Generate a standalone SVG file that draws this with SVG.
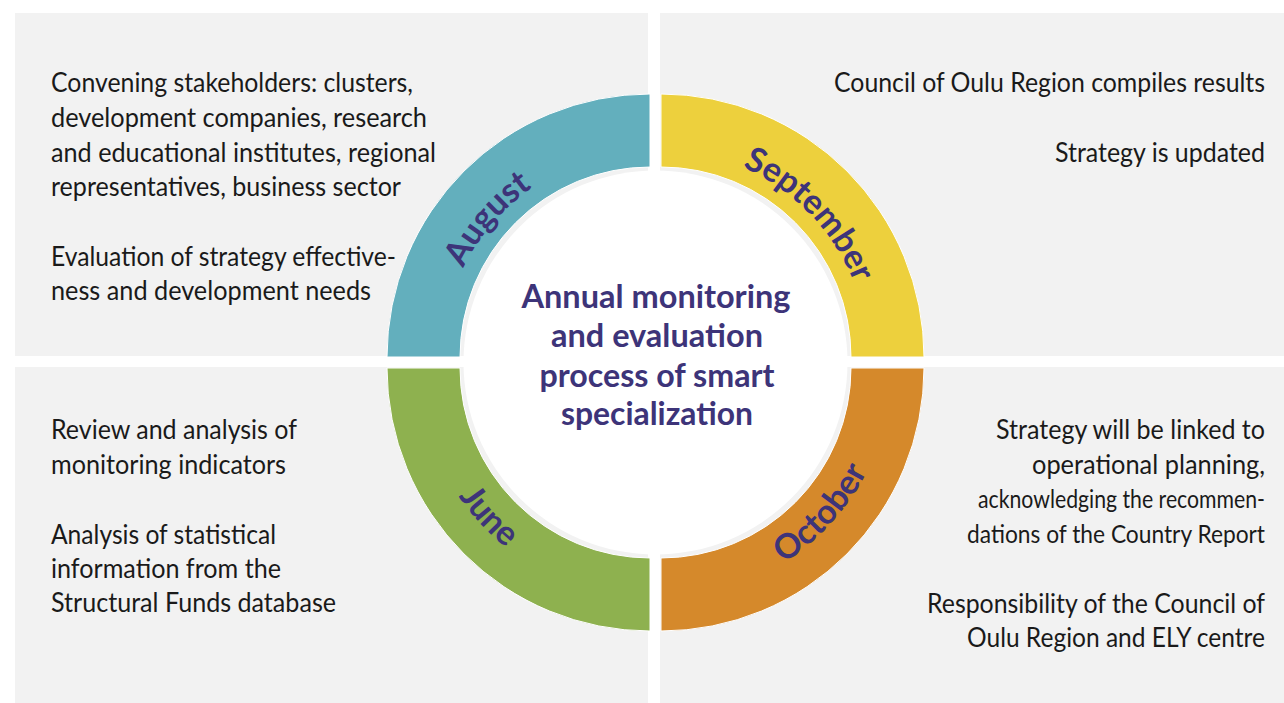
<svg xmlns="http://www.w3.org/2000/svg" width="1284" height="703" viewBox="0 0 1284 703">
<style>
.panel{fill:#F2F2F2}
.body{font-family:Lato,"Liberation Sans",sans-serif;font-size:26px;fill:#1A1A1A}
.right{text-anchor:end}
.narrow{font-size:25px}
.title{font-family:Lato,"Liberation Sans",sans-serif;font-size:32px;font-weight:bold;fill:#3D3479;text-anchor:middle}
.month{font-family:Lato,"Liberation Sans",sans-serif;font-size:34px;font-weight:bold;fill:#3D3479;text-anchor:middle}
.seg{stroke:#FFFFFF;stroke-width:1}
</style>
<defs>
<path id="arcTop" d="M 441.5 362.5 A 214 214 0 0 1 869.5 362.5"/>
<path id="arcBot" d="M 417.5 362.5 A 238 238 0 0 0 893.5 362.5"/>
</defs>
<rect x="0" y="0" width="1284" height="703" fill="#FFFFFF"/>
<g id="panel-august">
<rect class="panel" x="15" y="13" width="633" height="343"/>
<text class="body" x="51" y="92" textLength="362" lengthAdjust="spacingAndGlyphs">Convening stakeholders: clusters,</text>
<text class="body" x="51" y="127" textLength="376" lengthAdjust="spacingAndGlyphs">development companies, research</text>
<text class="body" x="51" y="162" textLength="385" lengthAdjust="spacingAndGlyphs">and educational institutes, regional</text>
<text class="body" x="51" y="196" textLength="350" lengthAdjust="spacingAndGlyphs">representatives, business sector</text>
<text class="body" x="51" y="266" textLength="345" lengthAdjust="spacingAndGlyphs">Evaluation of strategy effective-</text>
<text class="body" x="51" y="300" textLength="320" lengthAdjust="spacingAndGlyphs">ness and development needs</text>
</g>
<g id="panel-september">
<rect class="panel" x="660" y="13" width="624" height="343"/>
<text class="body right" x="1265" y="92" textLength="431" lengthAdjust="spacingAndGlyphs">Council of Oulu Region compiles results</text>
<text class="body right" x="1265" y="162" textLength="210" lengthAdjust="spacingAndGlyphs">Strategy is updated</text>
</g>
<g id="panel-june">
<rect class="panel" x="15" y="367" width="633" height="336"/>
<text class="body" x="51" y="439" textLength="246" lengthAdjust="spacingAndGlyphs">Review and analysis of</text>
<text class="body" x="51" y="474" textLength="235" lengthAdjust="spacingAndGlyphs">monitoring indicators</text>
<text class="body" x="51" y="544" textLength="225" lengthAdjust="spacingAndGlyphs">Analysis of statistical</text>
<text class="body" x="51" y="578" textLength="230" lengthAdjust="spacingAndGlyphs">information from the</text>
<text class="body" x="51" y="612" textLength="285" lengthAdjust="spacingAndGlyphs">Structural Funds database</text>
</g>
<g id="panel-october">
<rect class="panel" x="660" y="367" width="624" height="336"/>
<text class="body right" x="1265" y="439" textLength="269" lengthAdjust="spacingAndGlyphs">Strategy will be linked to</text>
<text class="body right" x="1265" y="474" textLength="233" lengthAdjust="spacingAndGlyphs">operational planning,</text>
<text class="body right narrow" x="1265" y="508" textLength="287" lengthAdjust="spacingAndGlyphs">acknowledging the recommen-</text>
<text class="body right narrow" x="1265" y="543" textLength="298" lengthAdjust="spacingAndGlyphs">dations of the Country Report</text>
<text class="body right" x="1265" y="613" textLength="338" lengthAdjust="spacingAndGlyphs">Responsibility of the Council of</text>
<text class="body right" x="1265" y="647" textLength="298" lengthAdjust="spacingAndGlyphs">Oulu Region and ELY centre</text>
</g>
<g id="ring">
<circle cx="655.5" cy="362.5" r="192" fill="#FFFFFF"/>
<path class="seg" fill="#63AFBD" d="M 387 357 A 263 263 0 0 1 650 94 L 650 167 A 190 190 0 0 0 460 357 Z"/>
<path class="seg" fill="#EDD03D" d="M 661 94 A 263 263 0 0 1 924 357 L 851 357 A 190 190 0 0 0 661 167 Z"/>
<path class="seg" fill="#8EB14F" d="M 387 368 A 263 263 0 0 0 650 631 L 650 558 A 190 190 0 0 1 460 368 Z"/>
<path class="seg" fill="#D5892B" d="M 924 368 A 263 263 0 0 1 661 631 L 661 558 A 190 190 0 0 0 851 368 Z"/>
</g>
<g id="month-labels">
<text class="month"><textPath href="#arcTop" startOffset="22.5%">August</textPath></text>
<text class="month"><textPath href="#arcTop" startOffset="75.6%">September</textPath></text>
<text class="month"><textPath href="#arcBot" startOffset="23.7%">June</textPath></text>
<text class="month"><textPath href="#arcBot" startOffset="76.5%">October</textPath></text>
</g>
<g id="center-title">
<text class="title" x="656" y="308" textLength="269" lengthAdjust="spacingAndGlyphs">Annual monitoring</text>
<text class="title" x="657" y="347" textLength="212" lengthAdjust="spacingAndGlyphs">and evaluation</text>
<text class="title" x="657" y="387" textLength="235" lengthAdjust="spacingAndGlyphs">process of smart</text>
<text class="title" x="657" y="425" textLength="192" lengthAdjust="spacingAndGlyphs">specialization</text>
</g>
<g id="connectors"></g>
</svg>
